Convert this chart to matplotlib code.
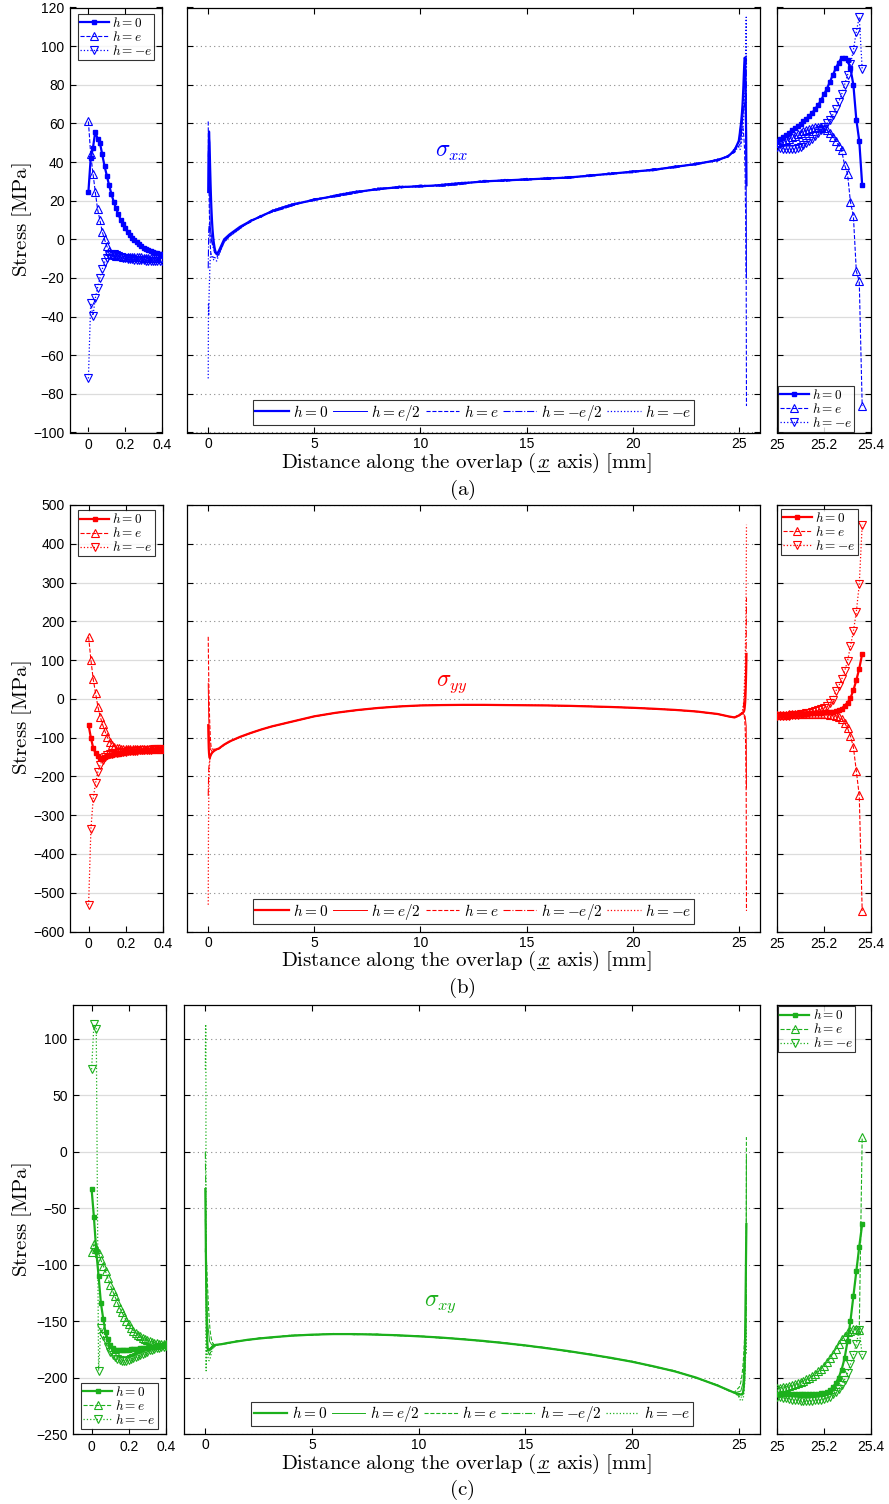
import matplotlib
matplotlib.use("Agg")
import matplotlib.pyplot as plt
from matplotlib.lines import Line2D

plt.rcParams["font.family"] = ["Liberation Sans", "DejaVu Sans"]
plt.rcParams["mathtext.fontset"] = "cm"

# node positions of the two end zooms and the coarse middle sampling
x_zl = [0.0, 0.0125, 0.025, 0.0375, 0.05, 0.0625, 0.075, 0.0875, 0.1, 0.1125, 0.125,
        0.1375, 0.15, 0.1625, 0.175, 0.1875, 0.2, 0.2125, 0.225, 0.2375, 0.25, 0.2625,
        0.275, 0.2875, 0.3, 0.3125, 0.325, 0.3375, 0.35, 0.3625, 0.375, 0.3875, 0.4]
x_zr = [25.0, 25.0125, 25.025, 25.0375, 25.05, 25.0625, 25.075, 25.0875, 25.1, 25.1125,
        25.125, 25.1375, 25.15, 25.1625, 25.175, 25.1875, 25.2, 25.2125, 25.225, 25.2375,
        25.25, 25.2625, 25.275, 25.2875, 25.3, 25.3125, 25.325, 25.3375, 25.35, 25.3625]
x_mid = [0.5, 0.75, 1, 1.5, 2, 2.5, 3, 4, 5, 6, 7, 8, 9, 10, 11, 12, 13, 14, 15, 16,
         17, 18, 19, 20, 21, 22, 23, 24, 24.5, 24.8]
x_hl = [0.0, 0.025, 0.05, 0.1, 0.2, 0.3]
x_hr = [25.1, 25.2, 25.3, 25.35, 25.3625]

# ---- sigma_xx ----
sxx_l_h0 = [24.5, 42, 47.5, 55.8, 52, 50, 44, 38, 33, 28, 23.5, 19.5, 16, 13, 10.2, 7.8, 5.6,
            3.8, 2.2, 0.8, -0.5, -1.6, -2.6, -3.5, -4.3, -5, -5.6, -6.1, -6.6, -7, -7.3, -7.6, -7.8]
sxx_l_pe = [61, 44, 34, 24.5, 15.5, 10, 4, 0, -3.5, -6, -7.5, -8.2, -8.5, -8.7, -8.8, -9, -9,
            -9.1, -9.2, -9.2, -9.3, -9.3, -9.4, -9.4, -9.5, -9.5, -9.5, -9.6, -9.6, -9.6, -9.7, -9.7, -9.7]
sxx_l_me = [-72, -33, -39.5, -30.5, -25, -20, -15.5, -12, -9.5, -8, -7.5, -7.8, -8.3, -8.8, -9.2,
            -9.5, -9.8, -10, -10.2, -10.3, -10.5, -10.6, -10.7, -10.8, -10.9, -11, -11, -11, -11.1,
            -11.1, -11.1, -11.2, -11.2]
sxx_r_h0 = [51, 52, 53, 54, 55, 56.5, 57.5, 58.5, 59.5, 61, 62.5, 64, 65.5, 67.5, 69.5, 72, 75,
            78, 81.5, 85, 88.5, 91.5, 94, 94, 93, 88.5, 80, 62, 51, 28]
sxx_r_pe = [50, 50.5, 51, 51.5, 52, 53, 53.5, 54.5, 55, 56, 56.5, 57, 57.5, 58, 58, 58, 57.5, 56.5,
            55, 53, 51, 48.5, 46, 38.6, 34, 19.3, 12.2, -16.5, -21.7, -86.3]
sxx_r_me = [48, 47.5, 47, 46.5, 46.5, 46.5, 47, 47.5, 48, 49, 50, 51, 52, 53.5, 55, 56.5, 58, 60,
            62, 64.5, 67.5, 71, 75, 80, 85, 90.5, 98, 107.5, 115, 88]
sxx_m_h0 = [-6, 0, 2.5, 6.5, 9.5, 12, 14.5, 18, 20.5, 22.5, 24.5, 26, 27, 27.5, 28, 29, 30, 30.5,
            31, 31.5, 32, 33, 34, 35, 36, 37.5, 39, 41, 43, 46]
sxx_m_alt = [-7, -1, 2, 6, 9, 12.5, 14, 17.5, 21, 22, 24, 26.5, 26.5, 28, 27.5, 28.5, 30.5, 30,
             31.5, 31, 32.5, 32.5, 34.5, 34.5, 36.5, 37, 39.5, 40.5, 43.5, 45]
sxx_m_alt2 = [-8, -1.5, 1.5, 5.5, 10, 11.5, 15, 18.5, 20, 23, 25, 25.5, 27.5, 27, 28.5, 29.5, 29.5,
              31, 30.5, 32, 31.5, 33.5, 33.5, 35.5, 35.5, 38, 38.5, 41.5, 42.5, 47]
sxx_hl_pe2 = [43, 50, 30, 6, -2, -6]
sxx_hl_me2 = [-15, 5, 8, 2, -3, -7]
sxx_hr_pe2 = [52, 65, 72, 35, -20]
sxx_hr_me2 = [50, 66, 90, 95, 70]

# ---- sigma_yy ----
syy_l_h0 = [-68, -101, -127, -140, -148, -152, -152, -150, -148, -146, -144.5, -143, -142, -141,
            -140, -139, -138, -137.5, -137, -136, -135.5, -135, -134.5, -134, -133.5, -133, -132.5,
            -132, -131.5, -131, -130.5, -130, -130]
syy_l_pe = [160, 100, 50, 15, -20, -46, -66, -83, -98, -110, -118, -123, -126, -127.5, -128.5, -129,
            -129.5, -129.5, -130, -130, -130, -130, -130, -130, -130, -129.5, -129.5, -129.5, -129,
            -129, -129, -128.5, -128.5]
syy_l_me = [-531, -335, -256, -217, -188, -170, -157, -150, -146, -143, -141.5, -140, -139, -138,
            -137, -136.5, -136, -135.5, -135, -134.5, -134, -133.5, -133, -132.5, -132, -131.5, -131,
            -131, -130.5, -130.5, -130, -130, -129.5]
syy_r_h0 = [-43, -42.5, -42, -41.5, -41, -40.5, -40, -39.5, -39, -38.5, -38, -37.5, -37, -36.5, -36,
            -35.5, -35, -34.5, -34, -33, -31.5, -29, -25, -18, -10, 2, 22, 48, 78, 116]
syy_r_pe = [-41, -41, -40.5, -40.5, -40, -40, -40, -39.5, -39.5, -39.5, -39, -39, -39, -39, -39, -39,
            -39.5, -40, -40.5, -41.5, -43, -46, -52, -62, -75, -96, -124, -186, -249, -547]
syy_r_me = [-45, -44.5, -44, -43.5, -43, -42.5, -42, -41, -40, -39, -37.5, -36, -34, -32, -29.5,
            -26.5, -23, -18, -11, -2, 20, 33, 50, 71, 97, 136, 174, 224, 295, 449]
syy_m_h0 = [-128, -118, -110, -98, -88, -79, -71, -58, -45, -36, -29, -23.5, -19.5, -17, -16, -15.5,
            -15.5, -16, -16.5, -17, -18, -19.5, -21, -23, -25.5, -28.5, -32.5, -39, -45, -48]
syy_m_alt = [-129, -119, -111, -98.5, -88.5, -79, -71.5, -58, -45.5, -36, -29.5, -23.5, -20, -17,
             -16.5, -15.5, -16, -16, -17, -17, -18.5, -19.5, -21.5, -23, -26, -28.5, -33, -39, -45.5, -47.5]
syy_hl_pe2 = [40, -50, -100, -130, -136, -133]
syy_hl_me2 = [-250, -180, -165, -148, -137, -133]
syy_hr_pe2 = [-40, -37, -45, -70, -230]
syy_hr_me2 = [-41, -30, 25, 140, 260]

# ---- sigma_xy ----
sxy_l_h0 = [-33, -58, -88, -110, -134, -148, -160, -166, -171, -174, -175.5, -176, -176, -176, -176,
            -175.5, -175.5, -175, -175, -174.5, -174.5, -174, -174, -173.5, -173.5, -173, -173,
            -172.5, -172.5, -172, -172, -171.5, -171.5]
sxy_l_pe = [-89, -82, -86, -90, -96, -101, -106, -112, -118, -123, -128, -133, -138, -142, -146,
            -150, -153, -156, -158.5, -160.5, -162, -163.5, -165, -166, -167, -168, -168.5, -169,
            -169.5, -170, -170, -170.5, -170.5]
sxy_l_me = [73, 113, 109, -194, -156, -163, -168, -173, -177, -180, -182, -183.5, -184.5, -185, -185,
            -185, -184.5, -184, -183, -182, -181, -180, -179, -178, -177, -176, -175.5, -175, -174,
            -173.5, -173, -172.5, -172]
sxy_r_h0 = [-214.5, -214.5, -214.5, -215, -215, -215, -215, -215, -215, -215, -215, -215, -215, -215,
            -214.5, -214, -213.5, -212.5, -211, -208.5, -205, -200, -193, -183, -168, -150, -128,
            -106, -84, -64]
sxy_r_pe = [-209, -209, -208.5, -208, -207.5, -207, -206, -205, -204, -203, -201.5, -200, -198.5,
            -196.5, -194.5, -192, -189.5, -186.5, -183, -179, -175, -170.5, -166, -163, -160, -158.5,
            -157, -157, -158, 13]
sxy_r_me = [-217, -217.5, -218, -218.5, -219, -219.5, -220, -220, -220.5, -220.5, -220.5, -220.5,
            -220.5, -220, -220, -219.5, -219, -218, -217, -215, -213, -210, -206.5, -202, -196, -188,
            -180, -170, -158, -180]
sxy_m_h0 = [-171, -170.5, -169.5, -168, -166.5, -165.5, -164.5, -163, -162, -161.5, -161.5, -162,
            -162.5, -163.5, -164.5, -166, -167.5, -169.5, -171.5, -174, -176.5, -179.5, -182.5, -186,
            -190, -194.5, -200, -207, -211, -213.5]
sxy_m_alt = [-171.5, -170, -170, -167.5, -167, -165, -165, -162.5, -162.5, -161, -162, -161.5, -163,
             -163, -165, -165.5, -168, -169, -172, -173.5, -177, -179, -183, -185.5, -190.5, -194,
             -200.5, -206.5, -211.5, -213]
sxy_hl_pe2 = [-60, -85, -115, -150, -168, -171]
sxy_hl_me2 = [0, -40, -150, -176, -180, -175]
sxy_hr_pe2 = [-212, -205, -170, -110, -5]
sxy_hr_me2 = [-218, -215, -190, -150, -125]

W, H = 889.0, 1504.0
fig = plt.figure(figsize=(W / 100, H / 100), dpi=100)
renderer = fig.canvas.get_renderer()


def place(left, top, right, bottom):
    return fig.add_axes([left / W, 1 - bottom / H, (right - left) / W, (bottom - top) / H])


def frame(ax, ylim, yticks, labels, pad=4):
    ax.set_ylim(*ylim)
    ax.set_yticks(yticks)
    ax.tick_params(direction="in", top=True, right=True, length=4, width=0.8,
                   labelsize=10, labelleft=labels, pad=pad)
    for s in ax.spines.values():
        s.set_linewidth(0.9)


def side_panel(ax, x, h0, pe, me, color, ylim, yticks, labels, legend_kw):
    ax.yaxis.grid(True, color="#dcdcdc", lw=0.9, ls="-")
    ax.set_axisbelow(True)
    l0, = ax.plot(x, h0, "-", color=color, lw=1.6, marker="s", ms=3.2, mfc=color, mec=color, zorder=4)
    l1, = ax.plot(x, pe, "--", color=color, lw=0.8, marker="^", ms=5.5, mfc="none", mec=color,
                  mew=0.8, zorder=3)
    l2, = ax.plot(x, me, ":", color=color, lw=0.9, marker="v", ms=5.5, mfc="none", mec=color,
                  mew=0.8, zorder=3)
    frame(ax, ylim, yticks, labels)
    leg = ax.legend([l0, l1, l2], [r"$h=0$", r"$h=e$", r"$h=-e$"], fontsize=9.5, fancybox=False,
                    handlelength=2.2, handletextpad=0.25, labelspacing=0.0, borderpad=0.15,
                    **legend_kw)
    leg.get_frame().set_edgecolor("black")
    leg.get_frame().set_linewidth(0.8)


def mid_panel(ax, color, left, mid0, mid_a, mid_b, right, half_l, half_r, ylim, yticks, sigma, spos):
    (l_h0, l_pe, l_me), (r_h0, r_pe, r_me) = left, right
    xf = x_zl + x_mid + x_zr
    xh = x_hl + x_mid + x_hr
    ax.yaxis.grid(True, color="#8a8a8a", lw=0.8, ls=(0, (1, 3)))
    ax.set_axisbelow(True)
    a, = ax.plot(xf, l_h0 + mid0 + r_h0, "-", color=color, lw=1.6, zorder=5)
    b, = ax.plot(xh, half_l[0] + mid_b + half_r[0], "-", color=color, lw=0.7, zorder=3)
    c, = ax.plot(xf, l_pe + mid_a + r_pe, "--", color=color, lw=0.8, zorder=3)
    d, = ax.plot(xh, half_l[1] + mid_a + half_r[1], "-.", color=color, lw=0.8, zorder=3)
    e, = ax.plot(xf, l_me + mid_b + r_me, ":", color=color, lw=0.9, zorder=3)
    ax.set_xlim(-1, 26)
    ax.set_xticks([0, 5, 10, 15, 20, 25])
    frame(ax, ylim, yticks, False, pad=3)
    leg = ax.legend([a, b, c, d, e], [r"$h=0$", r"$h=e/2$", r"$h=e$", r"$h=-e/2$", r"$h=-e$"],
                    ncol=5, loc="lower center", fontsize=11, fancybox=False, handlelength=2.2,
                    handletextpad=0.3, columnspacing=0.3, borderpad=0.15, borderaxespad=0.5)
    leg.get_frame().set_edgecolor("black")
    leg.get_frame().set_linewidth(0.8)
    ax.text(spos[0], spos[1], sigma, color=color, fontsize=17, ha="center", va="center")


def underlined_xlabel(xc, yc):
    # mathtext has no \underline, so the x is underlined by hand
    parts = [r"$\mathrm{Distance\ along\ the\ overlap\ (}$", r"$x$", r"$\mathrm{\ axis)\ [mm]}$"]
    texts = [fig.text(0, 1 - yc / H, p, fontsize=15, va="baseline") for p in parts]
    widths = [t.get_window_extent(renderer).width for t in texts]
    x0 = xc - sum(widths) / 2
    for t, w in zip(texts, widths):
        t.set_x(x0 / W)
        x0 += w
    ux = xc - sum(widths) / 2 + widths[0]
    yb = 1 - (yc + 2.5) / H
    fig.add_artist(Line2D([(ux + 0.5) / W, (ux + widths[1] - 0.5) / W], [yb, yb],
                          color="black", lw=0.8))


rows = [
    dict(top=7.5, bottom=432.5, lx=(70, 162), mx=(187, 760), color="#0000ff",
         ylim=(-100, 120), yticks=list(range(-100, 121, 20)),
         left=(sxx_l_h0, sxx_l_pe, sxx_l_me), right=(sxx_r_h0, sxx_r_pe, sxx_r_me),
         mid=(sxx_m_h0, sxx_m_alt, sxx_m_alt2), half_l=(sxx_hl_pe2, sxx_hl_me2),
         half_r=(sxx_hr_pe2, sxx_hr_me2), sigma=r"$\sigma_{xx}$", spos=(11.5, 45),
         leg_l=dict(loc="upper center", borderaxespad=0.5),
         leg_r=dict(loc="lower left", borderaxespad=0.05), xl_y=468, cap_y=490, cap="(a)"),
    dict(top=505, bottom=931.5, lx=(70, 163), mx=(187, 760), color="#ff0000",
         ylim=(-600, 500), yticks=list(range(-600, 501, 100)),
         left=(syy_l_h0, syy_l_pe, syy_l_me), right=(syy_r_h0, syy_r_pe, syy_r_me),
         mid=(syy_m_h0, syy_m_alt, syy_m_h0), half_l=(syy_hl_pe2, syy_hl_me2),
         half_r=(syy_hr_pe2, syy_hr_me2), sigma=r"$\sigma_{yy}$", spos=(11.5, 38),
         leg_l=dict(loc="upper center", borderaxespad=0.4),
         leg_r=dict(loc="upper left", borderaxespad=0.3), xl_y=966, cap_y=988, cap="(b)"),
    dict(top=1005, bottom=1434, lx=(73, 166), mx=(184, 760), color="#1cb01c",
         ylim=(-250, 130), yticks=list(range(-250, 101, 50)),
         left=(sxy_l_h0, sxy_l_pe, sxy_l_me), right=(sxy_r_h0, sxy_r_pe, sxy_r_me),
         mid=(sxy_m_h0, sxy_m_alt, sxy_m_h0), half_l=(sxy_hl_pe2, sxy_hl_me2),
         half_r=(sxy_hr_pe2, sxy_hr_me2), sigma=r"$\sigma_{xy}$", spos=(11.0, -135),
         leg_l=dict(loc="lower center", borderaxespad=0.4),
         leg_r=dict(loc="upper left", borderaxespad=0.1), xl_y=1469, cap_y=1490, cap="(c)"),
]

for r in rows:
    t, btm = r["top"], r["bottom"]
    axl = place(r["lx"][0], t, r["lx"][1], btm)
    axm = place(r["mx"][0], t, r["mx"][1], btm)
    axr = place(777, t, 871, btm)

    side_panel(axl, x_zl, *r["left"], r["color"], r["ylim"], r["yticks"], True, r["leg_l"])
    axl.set_xlim(-0.1, 0.4)
    axl.set_xticks([0, 0.2, 0.4])
    axl.set_xticklabels(["0", "0.2", "0.4"])

    side_panel(axr, x_zr, *r["right"], r["color"], r["ylim"], r["yticks"], False, r["leg_r"])
    axr.set_xlim(25, 25.4)
    axr.set_xticks([25, 25.2, 25.4])
    axr.set_xticklabels(["25", "25.2", "25.4"])

    mid_panel(axm, r["color"], r["left"], *r["mid"], r["right"], r["half_l"], r["half_r"],
              r["ylim"], r["yticks"], r["sigma"], r["spos"])

    fig.text(22 / W, 1 - (t + btm) / 2 / H, r"$\mathrm{Stress\ [MPa]}$", rotation=90,
             ha="center", va="center", fontsize=15)
    underlined_xlabel(466, r["xl_y"])
    fig.text(462 / W, 1 - r["cap_y"] / H, r"$\mathrm{" + r["cap"] + "}$",
             ha="center", va="center", fontsize=15)

fig.savefig("out.png", dpi=100)
